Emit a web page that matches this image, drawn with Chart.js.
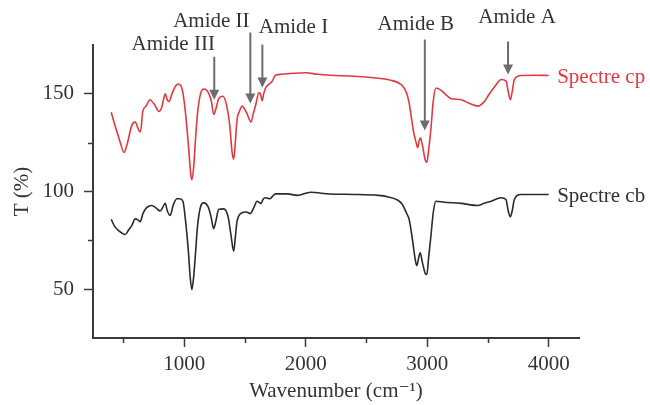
<!DOCTYPE html>
<html lang="en">
<head>
<meta charset="utf-8" />
<title>FTIR spectra cp / cb</title>
<script src="https://cdn.jsdelivr.net/npm/chart.js@4.4.1/dist/chart.umd.min.js"></script>
<style>
  html, body { margin: 0; padding: 0; background: #fff; }
</style>
</head>
<body>
<canvas id="c" width="650" height="405"></canvas>
<script>
// Spectre cp (red, upper trace): wavenumber (cm-1) / T (%)
const cpWave = [400, 430, 470, 505, 530, 570, 598, 625, 640, 660, 690, 718, 750, 795, 815, 845, 860, 875, 900, 930,
  955, 985, 1010, 1035, 1050, 1062, 1078, 1095, 1110, 1135, 1165, 1200, 1225, 1243, 1260, 1285, 1320, 1350, 1375, 1395,
  1408, 1420, 1436, 1455, 1477, 1500, 1520, 1550, 1570, 1590, 1615, 1628, 1642, 1655, 1670, 1700, 1720, 1752, 1800, 1900,
  2000, 2100, 2200, 2400, 2600, 2700, 2780, 2820, 2850, 2870, 2890, 2910, 2922, 2935, 2945, 2960, 2985, 2998, 3012, 3031,
  3050, 3072, 3110, 3168, 3200, 3280, 3350, 3420, 3470, 3500, 3560, 3610, 3650, 3668, 3685, 3700, 3718, 3773, 3900, 4000];
const cpT = [140.6, 134, 126, 120, 124, 134, 135.5, 131.5, 130.5, 141, 144, 147, 145, 141, 143, 150, 147, 146, 150, 154,
  155, 152, 141, 124, 112, 106, 112, 128, 140, 150, 152.5, 150.5, 146, 139.5, 142, 147.5, 148.8, 144, 134, 120,
  116.5, 124, 137, 141, 143.7, 142, 139.5, 135.5, 140, 144.5, 150.5, 150, 146.5, 150, 153, 155, 156, 159.5, 160, 160.5,
  160.8, 160, 159.5, 159, 158, 157, 155, 152, 146, 138, 130, 125, 122.5, 126, 127.5, 124, 116, 115, 121, 132,
  146, 153, 152, 148.8, 147.5, 147, 145, 143.7, 146, 148.8, 154, 157.3, 156.5, 151, 147, 151, 157.3, 159.4, 159.5, 159.4];

// Spectre cb (black, lower trace)
const cbWave = [400, 430, 460, 514, 545, 569, 597, 620, 638, 660, 679, 734, 770, 803, 825, 844, 862, 885, 910, 940,
  965, 990, 1010, 1036, 1050, 1064, 1078, 1092, 1110, 1133, 1160, 1201, 1225, 1243, 1262, 1284, 1325, 1361, 1385, 1408,
  1422, 1436, 1477, 1510, 1545, 1575, 1600, 1633, 1650, 1669, 1705, 1752, 1850, 1931, 2040, 2200, 2400, 2600, 2673, 2760,
  2797, 2830, 2852, 2880, 2900, 2915, 2930, 2943, 2960, 2985, 2998, 3012, 3031, 3050, 3072, 3140, 3278, 3416, 3470, 3526,
  3608, 3649, 3668, 3685, 3700, 3718, 3773, 3900, 4000];
const cbT = [85.7, 82, 80, 78, 80.5, 82.5, 86, 85.5, 84.5, 88.5, 90.8, 92.8, 91.5, 90, 92, 94, 90, 87.7, 93, 96.3,
  96.3, 95, 86, 68.6, 56, 49.8, 56, 67, 82, 91.7, 94.2, 91.7, 86, 81, 85, 90.8, 91.1, 87.4, 78, 69.4,
  77, 84.8, 89.1, 89.5, 88.7, 92, 95, 93.9, 96, 96.8, 96.3, 98.8, 98.8, 98, 99.6, 98.7, 98.5, 98, 97.3, 95.5,
  93.3, 89, 85.7, 75, 66, 62, 66, 68.6, 64, 58, 57.5, 66, 77.1, 89, 95, 94.5, 93.9, 92.8, 94, 95,
  96.8, 95.9, 90, 87, 90, 95.9, 98.5, 98.5, 98.5];

const seriesNames = ['Spectre cp', 'Spectre cb'];

// band annotations: label, arrow wavenumber, arrow top / tip (T %), label centre (wavenumber, T %)
const amideLabels = ['Amide III', 'Amide II', 'Amide I', 'Amide B', 'Amide A'];
const amideWave = [1248, 1545, 1644, 2981, 3666];
const amideArrowTop = [169, 181.4, 175.2, 177.8, 176.8];
const amideArrowTip = [147, 145, 153.2, 131.2, 159.9];
const amideTextWave = [910, 1224, 1900, 2907, 3740];
const amideTextT = [175.2, 187, 184, 185.5, 189];

const xMajorTicks = [1000, 2000, 3000, 4000];
const xMinorTicks = [500, 1500, 2500, 3500];
const yMajorTicks = [50, 100, 150];
const yMinorTicks = [75, 125];

const RED = '#e2383f';
const DARK = '#2a2a2a';
const AXIS = '#3a3a3a';
const ARROW = '#6c6c6c';
const SERIF = '"Liberation Serif", "DejaVu Serif", serif';

const toPoints = (xs, ys) => xs.map((x, i) => ({ x, y: ys[i] }));

const decor = {
  id: 'decor',
  afterDraw(chart) {
    const { ctx, scales: { x, y } } = chart;
    ctx.save();

    // short minor ticks
    ctx.strokeStyle = AXIS;
    ctx.lineWidth = 1.5;
    ctx.beginPath();
    xMinorTicks.forEach((v) => {
      const px = Math.round(x.getPixelForValue(v)) + 0.5;
      ctx.moveTo(px, y.bottom);
      ctx.lineTo(px, y.bottom + 5);
    });
    yMinorTicks.forEach((v) => {
      const py = Math.round(y.getPixelForValue(v)) + 0.5;
      ctx.moveTo(x.left, py);
      ctx.lineTo(x.left - 5, py);
    });
    ctx.stroke();

    // arrows + amide labels
    ctx.font = `21px ${SERIF}`;
    ctx.textAlign = 'center';
    ctx.textBaseline = 'middle';
    amideLabels.forEach((label, i) => {
      const px = x.getPixelForValue(amideWave[i]);
      const top = y.getPixelForValue(amideArrowTop[i]);
      const tip = y.getPixelForValue(amideArrowTip[i]);
      ctx.strokeStyle = ARROW;
      ctx.fillStyle = ARROW;
      ctx.lineWidth = 2;
      ctx.beginPath();
      ctx.moveTo(px, top);
      ctx.lineTo(px, tip - 8);
      ctx.stroke();
      ctx.beginPath();
      ctx.moveTo(px - 5, tip - 10);
      ctx.lineTo(px + 5, tip - 10);
      ctx.lineTo(px, tip);
      ctx.closePath();
      ctx.fill();
      ctx.fillStyle = '#333';
      ctx.fillText(label, x.getPixelForValue(amideTextWave[i]), y.getPixelForValue(amideTextT[i]));
    });

    // series names at the right end of each trace
    ctx.textAlign = 'left';
    ctx.fillStyle = RED;
    ctx.fillText(seriesNames[0], x.getPixelForValue(4070), y.getPixelForValue(cpT[cpT.length - 1]) + 2);
    ctx.fillStyle = '#333';
    ctx.fillText(seriesNames[1], x.getPixelForValue(4070), y.getPixelForValue(cbT[cbT.length - 1]) + 2);

    ctx.restore();
  },
};

new Chart(document.getElementById('c'), {
  type: 'line',
  data: {
    datasets: [
      { label: seriesNames[0], data: toPoints(cpWave, cpT), borderColor: RED, borderWidth: 1.6,
        pointRadius: 0, tension: 0.35, cubicInterpolationMode: 'monotone' },
      { label: seriesNames[1], data: toPoints(cbWave, cbT), borderColor: DARK, borderWidth: 1.6,
        pointRadius: 0, tension: 0.35, cubicInterpolationMode: 'monotone' },
    ],
  },
  options: {
    responsive: false,
    animation: false,
    devicePixelRatio: 1,
    layout: { padding: { top: 45, right: 71, left: 0, bottom: 0 } },
    plugins: { legend: { display: false }, tooltip: { enabled: false } },
    scales: {
      x: {
        type: 'linear',
        min: 250,
        max: 4250,
        afterBuildTicks: (s) => { s.ticks = xMajorTicks.map((value) => ({ value })); },
        afterFit: (s) => { s.height = 67; },
        border: { display: true, color: AXIS, width: 2 },
        grid: { drawOnChartArea: false, drawTicks: true, tickLength: 9, tickColor: AXIS, tickWidth: 1.5, color: 'transparent' },
        ticks: { color: '#333', font: { family: SERIF, size: 21 }, padding: 5, maxRotation: 0,
          callback: (v) => String(v) },
        title: { display: true, text: 'Wavenumber (cm\u207B\u00B9)', color: '#333',
          font: { family: SERIF, size: 21 }, padding: { top: 0, bottom: 1 } },
      },
      y: {
        type: 'linear',
        min: 25,
        max: 175,
        afterBuildTicks: (s) => { s.ticks = yMajorTicks.map((value) => ({ value })); },
        afterFit: (s) => { s.width = 93; },
        border: { display: true, color: AXIS, width: 2 },
        grid: { drawOnChartArea: false, drawTicks: true, tickLength: 9, tickColor: AXIS, tickWidth: 1.5, color: 'transparent' },
        ticks: { color: '#333', font: { family: SERIF, size: 21 }, padding: 10, callback: (v) => String(v) },
        title: { display: true, text: 'T (%)', color: '#333',
          font: { family: SERIF, size: 21 }, padding: { top: 10, bottom: 0 } },
      },
    },
  },
  plugins: [decor],
});
</script>
</body>
</html>
